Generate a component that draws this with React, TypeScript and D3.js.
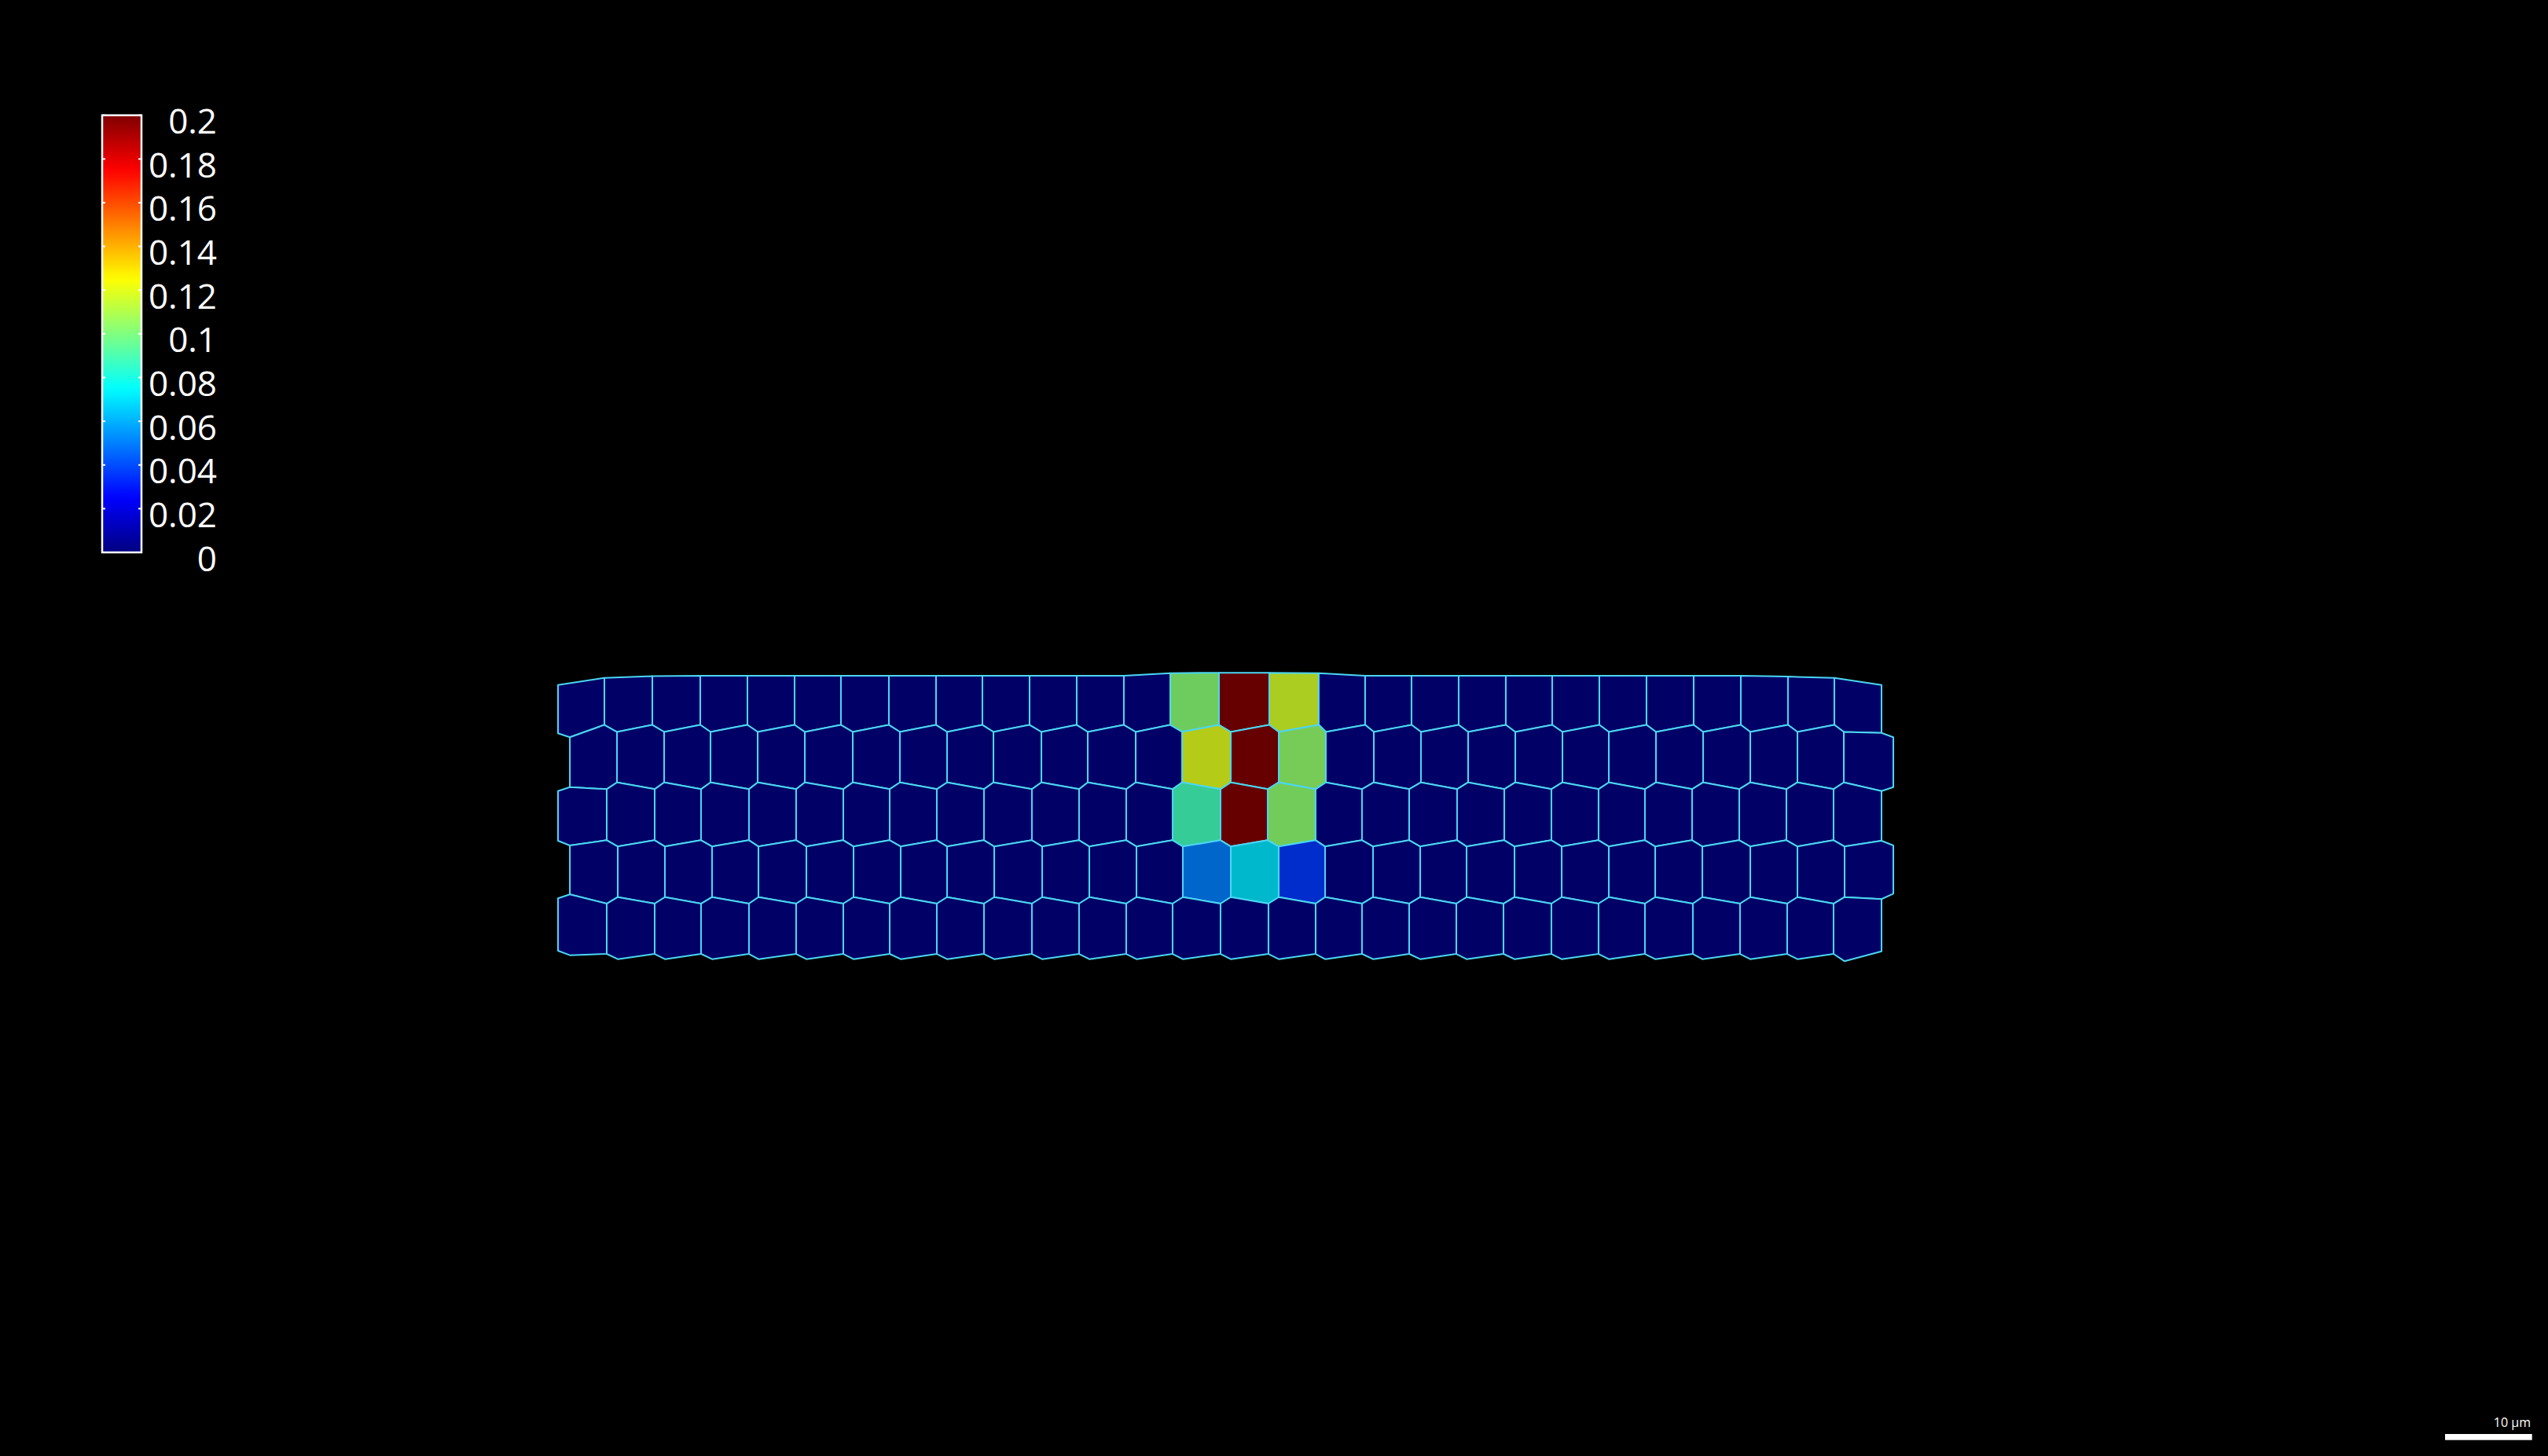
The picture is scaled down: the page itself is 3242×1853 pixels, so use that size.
import React, { useEffect } from 'react';
import * as d3 from 'd3';

// ---- data (µm, measured from the tissue's left edge / top edge) ----
const rowWalls: number[][] = [
  [0, 5.33, 10.84, 16.35, 21.77, 27.19, 32.52, 38.03, 43.45, 48.78, 54.2, 59.62, 65.04, 70.37, 75.97, 81.75, 87.44, 92.77, 98.1, 103.52, 108.94, 114.27, 119.69, 125.11, 130.53, 135.95, 141.37, 146.7, 152.12],
  [1.36, 6.78, 12.2, 17.53, 22.95, 28.37, 33.88, 39.3, 44.72, 50.05, 55.56, 60.89, 66.4, 71.73, 77.33, 82.84, 88.26, 93.77, 99.19, 104.61, 110.03, 115.45, 120.78, 126.2, 131.62, 137.04, 142.46, 147.79, 153.48],
  [0, 5.6, 11.11, 16.44, 21.95, 27.37, 32.79, 38.12, 43.54, 48.96, 54.47, 59.89, 65.31, 70.64, 76.15, 81.57, 87.08, 92.41, 97.83, 103.34, 108.76, 114.18, 119.6, 124.93, 130.35, 135.77, 141.19, 146.61, 152.12],
  [1.36, 6.87, 12.29, 17.71, 23.04, 28.55, 33.97, 39.39, 44.72, 50.14, 55.65, 61.07, 66.49, 71.82, 77.33, 82.84, 88.17, 93.68, 99.1, 104.43, 109.94, 115.36, 120.78, 126.11, 131.53, 137.04, 142.46, 147.88, 153.48],
  [0, 5.6, 11.11, 16.44, 21.95, 27.37, 32.79, 38.12, 43.54, 48.96, 54.47, 59.89, 65.31, 70.64, 76.15, 81.66, 87.08, 92.41, 97.83, 103.25, 108.67, 114.18, 119.6, 124.93, 130.44, 135.86, 141.28, 146.61, 152.12],
];
const topEdgeY: number[] = [1.06, 0.24, 0.05, 0, 0, 0, 0, 0, 0, 0, 0, 0, 0, -0.3, -0.35, -0.35, -0.3, 0, 0, 0, 0, 0, 0, 0, 0, 0, 0.1, 0.24, 1.06];
const interfaceUpperY: number[] = [5.65, 12.26, 18.91, 25.45, 31.98];
const interfaceLowerY: number[] = [6.46, 13.04, 19.63, 26.2, 32.58];
const edgeUpperLeftY: number[] = [6.62, 12.8, 18.97, 25.14, 31.62];
const edgeLowerLeftY: number[] = [7.07, 13.25, 19.51, 25.59, 32.13];
const edgeUpperRightY: number[] = [6.57, 12.8, 18.97, 25.05, 31.68];
const edgeLowerRightY: number[] = [7.07, 13.25, 19.51, 25.68, 32.82];

const cellValues: number[][] = [
  [0, 0, 0, 0, 0, 0, 0, 0, 0, 0, 0, 0, 0, 0.102, 0.2, 0.117, 0, 0, 0, 0, 0, 0, 0, 0, 0, 0, 0, 0],
  [0, 0, 0, 0, 0, 0, 0, 0, 0, 0, 0, 0, 0, 0.119, 0.2, 0.104, 0, 0, 0, 0, 0, 0, 0, 0, 0, 0, 0, 0],
  [0, 0, 0, 0, 0, 0, 0, 0, 0, 0, 0, 0, 0, 0.088, 0.2, 0.103, 0, 0, 0, 0, 0, 0, 0, 0, 0, 0, 0, 0],
  [0, 0, 0, 0, 0, 0, 0, 0, 0, 0, 0, 0, 0, 0.05, 0.07, 0.036, 0, 0, 0, 0, 0, 0, 0, 0, 0, 0, 0, 0],
  [0, 0, 0, 0, 0, 0, 0, 0, 0, 0, 0, 0, 0, 0, 0, 0, 0, 0, 0, 0, 0, 0, 0, 0, 0, 0, 0, 0],
];

const colorDomain: [number, number] = [0, 0.2];
const colorbarTicks: number[] = [0, 0.02, 0.04, 0.06, 0.08, 0.1, 0.12, 0.14, 0.16, 0.18, 0.2];
const colorbarTickLabels: string[] = ['0', '0.02', '0.04', '0.06', '0.08', '0.1', '0.12', '0.14', '0.16', '0.18', '0.2'];
const scaleBarMicrons = 10;
const scaleBarLabel = '10 µm';

// ---- layout ----
const W = 3242;
const H = 1853;
const PX_PER_UM = 11.07;
const TISSUE_X0 = 710;
const TISSUE_Y0 = 860;
const CB = { x: 130, w: 50, top: 146.7, bottom: 703 };
const SB = { right: 3221.7, y: 1825, h: 7.7 };

const xS = d3.scaleLinear().domain([0, 10]).range([TISSUE_X0, TISSUE_X0 + 10 * PX_PER_UM]);
const yS = d3.scaleLinear().domain([0, 10]).range([TISSUE_Y0, TISSUE_Y0 + 10 * PX_PER_UM]);
const cbScale = d3.scaleLinear().domain(colorDomain).range([CB.bottom, CB.top]);

function jet(f: number): [number, number, number] {
  const t = Math.max(0, Math.min(1, f));
  const c = (v: number) => Math.max(0, Math.min(1, v));
  return [c(1.5 - Math.abs(4 * t - 3)), c(1.5 - Math.abs(4 * t - 2)), c(1.5 - Math.abs(4 * t - 1))];
}
const shade = 0.8;
function cellColor(v: number) {
  const f = (v - colorDomain[0]) / (colorDomain[1] - colorDomain[0]);
  const [r, g, b] = jet(f);
  return d3.rgb(r * 255 * shade, g * 255 * shade, b * 255 * shade).formatHex();
}
function barColor(f: number) {
  const [r, g, b] = jet(f);
  return d3.rgb(r * 255, g * 255, b * 255).formatHex();
}

type P = { x: number; y: number; upper: boolean };

function interfacePoints(k: number): P[] {
  const A = rowWalls[k];
  const B = k < 4 ? rowWalls[k + 1] : rowWalls[3].slice(0, -1);
  const pts: P[] = [];
  A.forEach((x, i) => {
    const y = i === 0 ? edgeUpperLeftY[k] : i === A.length - 1 ? edgeUpperRightY[k] : interfaceUpperY[k];
    pts.push({ x, y, upper: true });
  });
  B.forEach((x, i) => {
    const y = i === 0 ? edgeLowerLeftY[k] : i === B.length - 1 ? edgeLowerRightY[k] : interfaceLowerY[k];
    pts.push({ x, y, upper: false });
  });
  pts.sort((a, b) => a.x - b.x);
  return pts;
}

const interfaces = [0, 1, 2, 3, 4].map(interfacePoints);

function cellPolygon(r: number, i: number): [number, number][] {
  const left = rowWalls[r][i];
  const right = rowWalls[r][i + 1];
  const eps = 1e-6;
  let top: [number, number][];
  if (r === 0) {
    top = [[left, topEdgeY[i]], [right, topEdgeY[i + 1]]];
  } else {
    top = interfaces[r - 1].filter((p) => p.x >= left - eps && p.x <= right + eps).map((p) => [p.x, p.y] as [number, number]);
  }
  const bottom = interfaces[r].filter((p) => p.x >= left - eps && p.x <= right + eps).map((p) => [p.x, p.y] as [number, number]);
  return top.concat(bottom.reverse());
}

const cells: { d: string; fill: string; key: string }[] = [];
cellValues.forEach((row, r) => {
  row.forEach((v, i) => {
    const poly = cellPolygon(r, i).map(([x, y]) => [xS(x), yS(y)] as [number, number]);
    cells.push({ d: 'M' + poly.map((p) => p[0].toFixed(2) + ',' + p[1].toFixed(2)).join('L') + 'Z', fill: cellColor(v), key: r + '-' + i });
  });
});

const gradStops = d3.range(0, 1.0001, 0.02).map((f) => ({ offset: f, color: barColor(f) }));

export default function App() {
  useEffect(() => {
    document.body.style.margin = '0';
    document.body.style.background = '#000';
  }, []);
  const sbLen = xS(scaleBarMicrons) - xS(0);
  const font = "'Open Sans', 'Noto Sans', sans-serif";
  return (
    <svg width={W} height={H} style={{ position: 'fixed', left: 0, top: 0, display: 'block' }}>
      <defs>
        <linearGradient id="jetbar" x1="0" y1="1" x2="0" y2="0">
          {gradStops.map((s) => (
            <stop key={s.offset} offset={s.offset} stopColor={s.color} />
          ))}
        </linearGradient>
      </defs>
      <rect x={0} y={0} width={W} height={H} fill="#000" />
      <g>
        {cells.map((c) => (
          <path key={c.key} d={c.d} fill={c.fill} stroke="#4cd6f2" strokeWidth={2} strokeLinejoin="round" />
        ))}
      </g>
      <g>
        <rect x={CB.x} y={CB.top} width={CB.w} height={CB.bottom - CB.top} fill="url(#jetbar)" stroke="#ffffff" strokeWidth={2.5} />
        {colorbarTicks.map((t, i) => (
          <g key={t}>
            <line x1={CB.x} x2={CB.x + 4} y1={cbScale(t)} y2={cbScale(t)} stroke="#fff" strokeWidth={2} />
            <line x1={CB.x + CB.w - 4} x2={CB.x + CB.w} y1={cbScale(t)} y2={cbScale(t)} stroke="#fff" strokeWidth={2} />
            <text x={276} y={cbScale(t) + 23.5} textAnchor="end" fill="#fff" fontSize={44} fontFamily={font}>
              {colorbarTickLabels[i]}
            </text>
          </g>
        ))}
      </g>
      <g>
        <rect x={SB.right - sbLen} y={SB.y} width={sbLen} height={SB.h} fill="#fff" />
        <text x={3220} y={1816} textAnchor="end" fill="#fff" fontSize={16} fontFamily={font}>
          {scaleBarLabel}
        </text>
      </g>
    </svg>
  );
}
